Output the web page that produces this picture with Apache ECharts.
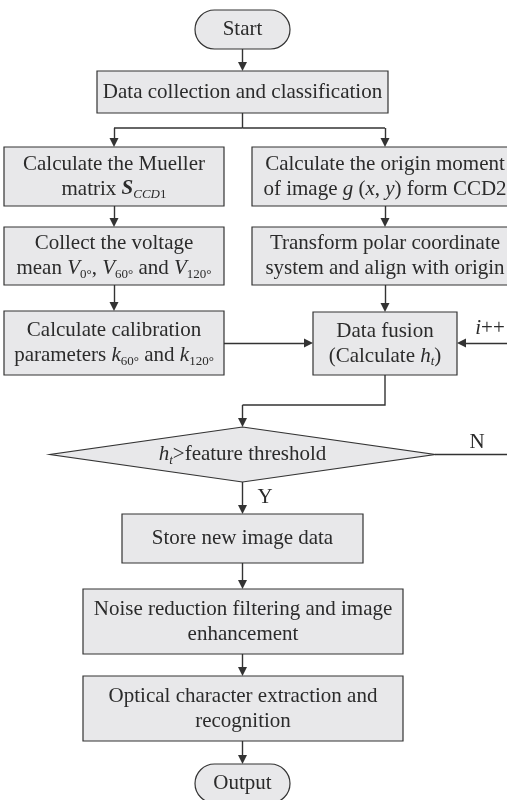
<!DOCTYPE html>
<html>
<head>
<meta charset="utf-8">
<script src="https://cdn.jsdelivr.net/npm/echarts@6/dist/echarts.min.js"></script>
<style>
  html, body { margin: 0; padding: 0; background: #fff; }
  #chart { width: 507px; height: 800px; }
</style>
</head>
<body>
<div id="chart"></div>
<script>
const FONT = '"Liberation Serif", "Times New Roman", serif'
const TEXT = '#2b2b2b'
const LINE = '#333333'
const FILL = '#e8e8ea'
const ARROW = 9

// step texts of the flowchart
const nodeText = [
  'Start',
  'Data collection and classification',
  'Calculate the Mueller\nmatrix {bi|S}{subi|CCD}{sub|1}',
  'Collect the voltage\nmean {i|V}{sub|0°}, {i|V}{sub|60°} and {i|V}{sub|120°}',
  'Calculate calibration\nparameters {i|k}{sub|60°} and {i|k}{sub|120°}',
  'Calculate the origin moment\nof image {i|g} ({i|x}, {i|y}) form CCD2',
  'Transform polar coordinate\nsystem and align with origin',
  'Data fusion\n(Calculate {i|h}{subi|t})',
  '{i|h}{subi|t}>feature threshold',
  'Store new image data',
  'Noise reduction filtering and image\nenhancement',
  'Optical character extraction and\nrecognition',
  'Output',
  '{i|i}++',
  'N',
  'Y'
]
const nodeShape = ['pill', 'rect', 'rect', 'rect', 'rect', 'rect', 'rect', 'rect',
  'diamond', 'rect', 'rect', 'rect', 'pill', 'none', 'none', 'none']

// layout: centre x, centre y, width, height (flowchart units)
const nodeBox = [
  [242.5, 29.5, 95, 39],
  [242.5, 92, 291, 42],
  [114, 176.5, 220, 59],
  [114, 256, 220, 58],
  [114, 343, 220, 64],
  [385, 176.5, 266, 59],
  [385, 256, 266, 58],
  [385, 343.5, 144, 63],
  [242.5, 454.5, 385, 55],
  [242.5, 538.5, 241, 49],
  [243, 621.5, 320, 65],
  [243, 708.5, 320, 65],
  [242.5, 783.5, 95, 39],
  [490, 328, 0, 0],
  [477, 442, 0, 0],
  [265, 497, 0, 0]
]

// connectors ending with an arrow head
const arrowPaths = [
  [[242.5, 49], [242.5, 71]],
  [[242.5, 128], [114, 128], [114, 147]],
  [[242.5, 128], [385, 128], [385, 147]],
  [[114, 206], [114, 227]],
  [[114, 285], [114, 311]],
  [[385, 206], [385, 227]],
  [[385, 285], [385, 312]],
  [[224, 343], [313, 343]],
  [[507, 343], [457, 343]],
  [[385, 375], [385, 405], [242.5, 405], [242.5, 427]],
  [[242.5, 482], [242.5, 514]],
  [[242.5, 563], [242.5, 589]],
  [[242.5, 654], [242.5, 676]],
  [[242.5, 741], [242.5, 764]]
]
// connectors without arrow head
const plainPaths = [
  [[242.5, 113], [242.5, 128]],
  [[435, 454.5], [507, 454.5]]
]

const RICH = {
  i: { font: `italic 21px ${FONT}`, lineHeight: 25 },
  bi: { font: `italic bold 21px ${FONT}`, lineHeight: 25 },
  sub: { font: `13px ${FONT}`, lineHeight: 25, padding: [12, 0, 0, 0] },
  subi: { font: `italic 13px ${FONT}`, lineHeight: 25, padding: [12, 0, 0, 0] }
}

// pull the last point back so the arrow tip lands on the box edge
const pullBack = (p, d) => {
  const a = p[p.length - 2], b = p[p.length - 1]
  const len = Math.hypot(b[0] - a[0], b[1] - a[1])
  return [b[0] - (b[0] - a[0]) / len * d, b[1] - (b[1] - a[1]) / len * d]
}

const headSegs = arrowPaths.map(p => ({ coords: [p[p.length - 2], pullBack(p, ARROW / 2)] }))
const bodySegs = plainPaths.map(p => ({ coords: p }))
  .concat(arrowPaths.filter(p => p.length > 2).map(p => ({ coords: p.slice(0, -1) })))

const myChart = echarts.init(document.getElementById('chart'))

const option = {
  animation: false,
  backgroundColor: '#fff',
  grid: { left: 0, right: 0, top: 0, bottom: 0 },
  xAxis: { type: 'value', min: 0, max: 507, show: false },
  yAxis: { type: 'value', min: 0, max: 800, inverse: true, show: false },
  series: [
    {
      type: 'lines',
      coordinateSystem: 'cartesian2d',
      polyline: true,
      silent: true,
      z: 1,
      lineStyle: { color: LINE, width: 1.4, opacity: 1 },
      data: bodySegs
    },
    {
      type: 'lines',
      coordinateSystem: 'cartesian2d',
      silent: true,
      z: 1,
      symbol: ['none', 'triangle'],
      symbolSize: ARROW,
      lineStyle: { color: LINE, width: 1.4, opacity: 1 },
      data: headSegs
    },
    {
      type: 'custom',
      coordinateSystem: 'cartesian2d',
      silent: true,
      z: 2,
      encode: { x: 0, y: 1 },
      data: nodeBox.map((b, i) => [b[0], b[1], b[2], b[3], i]),
      renderItem: (params, api) => {
        const i = api.value(4)
        const c = api.coord([api.value(0), api.value(1)])
        const s = api.size([api.value(2), api.value(3)])
        const kind = nodeShape[i]
        const boxStyle = { fill: FILL, stroke: LINE, lineWidth: 1.2 }
        const children = []
        if (kind === 'rect' || kind === 'pill') {
          children.push({
            type: 'rect',
            shape: { x: c[0] - s[0] / 2, y: c[1] - s[1] / 2, width: s[0], height: s[1], r: kind === 'pill' ? s[1] / 2 : 0 },
            style: boxStyle
          })
        } else if (kind === 'diamond') {
          children.push({
            type: 'polygon',
            shape: { points: [[c[0], c[1] - s[1] / 2], [c[0] + s[0] / 2, c[1]], [c[0], c[1] + s[1] / 2], [c[0] - s[0] / 2, c[1]]] },
            style: boxStyle
          })
        }
        children.push({
          type: 'text',
          x: c[0],
          y: c[1],
          style: {
            text: nodeText[i],
            font: `21px ${FONT}`,
            fill: TEXT,
            align: 'center',
            verticalAlign: 'middle',
            lineHeight: 25,
            rich: RICH
          }
        })
        return { type: 'group', children: children }
      }
    }
  ]
}

myChart.setOption(option)
</script>
</body>
</html>
